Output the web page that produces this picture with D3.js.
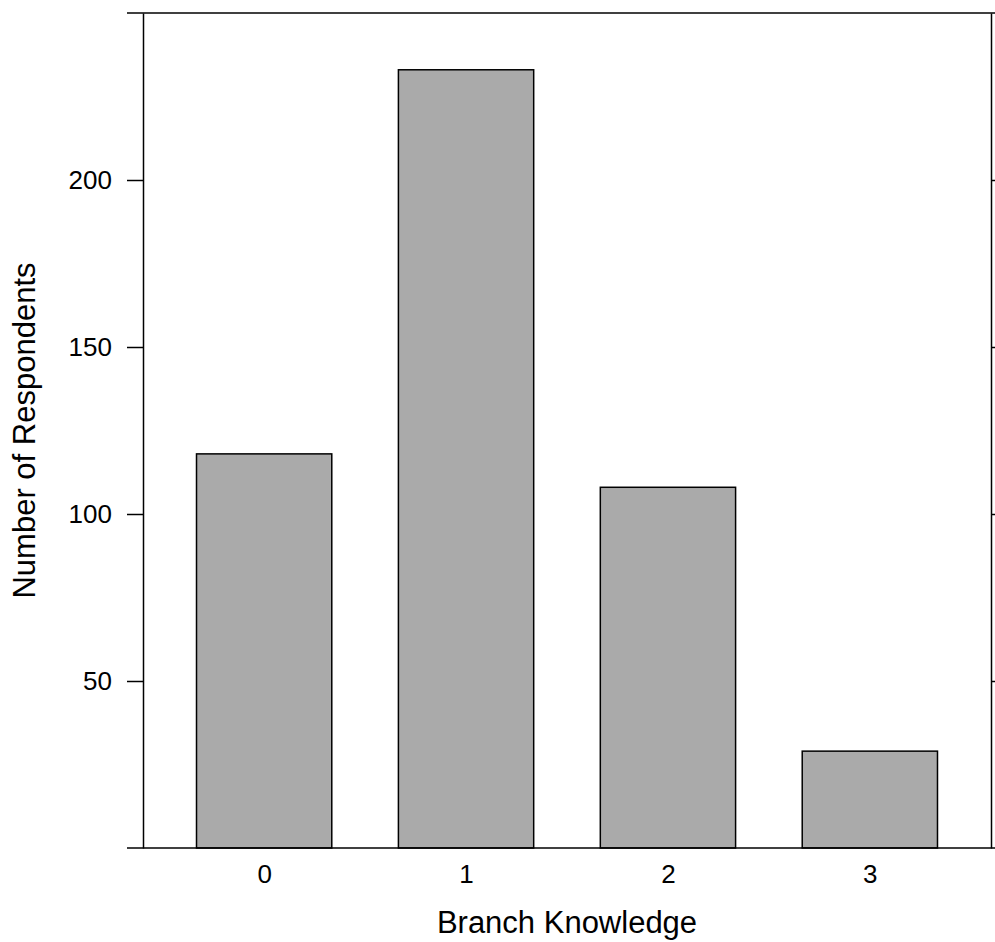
<!DOCTYPE html>
<html>
<head>
<meta charset="utf-8">
<script src="https://cdn.jsdelivr.net/npm/d3@7"></script>
<style>
  html, body { margin: 0; padding: 0; background: #fff; }
  svg { display: block; }
  text { font-family: "Liberation Sans", Arial, sans-serif; fill: #000; }
</style>
</head>
<body>
<svg id="chart" width="995" height="942"></svg>
<script>
const categories = ["0", "1", "2", "3"];
const values = [118, 233, 108, 29];
const yTicks = [50, 100, 150, 200];
const xTitle = "Branch Knowledge";
const yTitle = "Number of Respondents";

(function () {
const svg = d3.select("#chart");
const pLeft = 143, pRight = 991, pTop = 13, pBottom = 848;
const tickLen = 16;

const x = d3.scaleLinear().domain([-0.6, 3.6]).range([pLeft, pRight]);
const y = d3.scaleLinear().domain([0, 250]).range([pBottom, pTop]);
const barW = x(0.67) - x(0);

// bars
svg.append("g").selectAll("rect").data(values).join("rect")
  .attr("x", (d, i) => x(i) - barW / 2)
  .attr("y", d => y(d))
  .attr("width", barW)
  .attr("height", d => y(0) - y(d))
  .attr("fill", "#aaaaaa")
  .attr("stroke", "#000")
  .attr("stroke-width", 1.5);

// frame lines
const frame = svg.append("g").attr("stroke", "#000").attr("stroke-width", 1.5).attr("fill", "none");
frame.append("line").attr("x1", pLeft - tickLen).attr("x2", pRight + tickLen).attr("y1", y(250)).attr("y2", y(250));
frame.append("line").attr("x1", pLeft - tickLen).attr("x2", pRight + tickLen).attr("y1", y(0)).attr("y2", y(0));

// left axis
const yAxisL = d3.axisLeft(y).tickValues(yTicks).tickSize(tickLen).tickPadding(15).tickSizeOuter(0);
const gL = svg.append("g").attr("transform", `translate(${pLeft},0)`).call(yAxisL);
gL.select(".domain").attr("stroke-width", 1.5);
gL.selectAll(".tick line").attr("stroke-width", 1.5);
gL.selectAll(".tick text").attr("font-size", 26).attr("font-family", "Liberation Sans, Arial, sans-serif");

// right axis
const yAxisR = d3.axisRight(y).tickValues(yTicks).tickSize(tickLen).tickFormat("").tickSizeOuter(0);
const gR = svg.append("g").attr("transform", `translate(${pRight},0)`).call(yAxisR);
gR.select(".domain").attr("stroke-width", 1.5);
gR.selectAll(".tick line").attr("stroke-width", 1.5);

// x tick labels
const xAxis = d3.axisBottom(x).tickValues(categories.map((c, i) => i)).tickFormat((d, i) => categories[i]).tickSize(0).tickPadding(17);
const gX = svg.append("g").attr("transform", `translate(0,${pBottom})`).call(xAxis);
gX.select(".domain").remove();
gX.selectAll(".tick text").attr("font-size", 26).attr("font-family", "Liberation Sans, Arial, sans-serif");

// titles
svg.append("text").attr("x", (pLeft + pRight) / 2).attr("y", 933)
  .attr("text-anchor", "middle").attr("font-size", 31).text(xTitle);
svg.append("text").attr("transform", `translate(35,${(pTop + pBottom) / 2}) rotate(-90)`)
  .attr("text-anchor", "middle").attr("font-size", 31).text(yTitle);
})();
</script>
</body>
</html>
